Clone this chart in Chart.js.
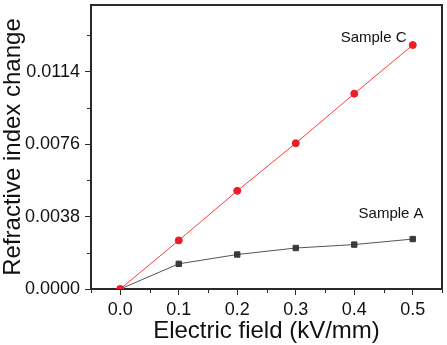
<!DOCTYPE html>
<html>
<head>
<meta charset="utf-8">
<script src="https://cdn.jsdelivr.net/npm/chart.js@4/dist/chart.umd.min.js"></script>
<style>
  html, body { margin: 0; padding: 0; background: #fff; }
  #wrap { width: 447px; height: 345px; }
</style>
</head>
<body>
<div id="wrap"><canvas id="chart" width="447" height="345"></canvas></div>
<script>
const fieldValues = [0.0, 0.1, 0.2, 0.3, 0.4, 0.5];
const sampleC = [0.0, 0.00255, 0.00515, 0.00765, 0.01025, 0.0128];
const sampleA = [0.0, 0.00132, 0.00181, 0.00215, 0.00233, 0.00262];
const seriesNames = ["Sample C", "Sample A"];
// where each series name sits, in data units
const nameAt = [{ x: 0.433, y: 0.01317 }, { x: 0.463, y: 0.00396 }];

const FONT = "'Liberation Sans', Arial, sans-serif";
const frameColor = "#2a2a2a";

const isMajorX = (v) => v > -1e-9 && Math.abs(v * 10 - Math.round(v * 10)) < 1e-6;
const isMajorY = (v) => Math.round(v / 0.0019) % 2 === 0;

// frame, minor ticks and series names
const extras = {
  id: "extras",
  beforeDatasetsDraw(chart) {
    const { ctx, chartArea: a, scales } = chart;
    ctx.save();
    ctx.strokeStyle = frameColor;
    ctx.lineWidth = 2;
    ctx.strokeRect(a.left, a.top, a.right - a.left, a.bottom - a.top);
    ctx.lineWidth = 1;
    scales.x.ticks.forEach((t) => {
      if (isMajorX(t.value)) return;
      const px = Math.round(scales.x.getPixelForValue(t.value)) + 0.5;
      ctx.beginPath();
      ctx.moveTo(px, a.bottom);
      ctx.lineTo(px, a.bottom + 4);
      ctx.stroke();
    });
    scales.y.ticks.forEach((t) => {
      if (isMajorY(t.value)) return;
      const py = Math.round(scales.y.getPixelForValue(t.value)) + 0.5;
      ctx.beginPath();
      ctx.moveTo(a.left, py);
      ctx.lineTo(a.left - 4, py);
      ctx.stroke();
    });
    ctx.restore();
  },
  afterDatasetsDraw(chart) {
    const { ctx, scales } = chart;
    ctx.save();
    ctx.fillStyle = "#111";
    ctx.font = "15px " + FONT;
    ctx.textAlign = "center";
    ctx.textBaseline = "middle";
    seriesNames.forEach((name, i) => {
      ctx.fillText(name, scales.x.getPixelForValue(nameAt[i].x), scales.y.getPixelForValue(nameAt[i].y));
    });
    ctx.restore();
  },
};

new Chart(document.getElementById("chart"), {
  type: "line",
  data: {
    datasets: [
      {
        label: seriesNames[0],
        data: fieldValues.map((x, i) => ({ x, y: sampleC[i] })),
        borderColor: "#ff3b3b",
        borderWidth: 1,
        pointStyle: "circle",
        pointRadius: 3.5,
        pointBackgroundColor: "#ee1c25",
        pointBorderColor: "#ee1c25",
        pointBorderWidth: 1,
      },
      {
        label: seriesNames[1],
        data: fieldValues.map((x, i) => ({ x, y: sampleA[i] })),
        borderColor: "#555555",
        borderWidth: 1,
        pointStyle: "rect",
        pointRadius: 3.8,
        pointBackgroundColor: "#3a3a3a",
        pointBorderColor: "#3a3a3a",
        pointBorderWidth: 1,
      },
    ],
  },
  options: {
    responsive: false,
    animation: false,
    layout: { padding: { top: 2, right: 3, left: 0, bottom: 0 } },
    plugins: { legend: { display: false }, tooltip: { enabled: false } },
    scales: {
      x: {
        type: "linear",
        min: -0.05,
        max: 0.55,
        afterFit: (s) => {
          s.height = 56;
          s.paddingLeft = 0;
          s.paddingRight = 0;
        },
        border: { display: false },
        grid: {
          drawOnChartArea: false,
          tickLength: 6,
          tickColor: (c) => (c.tick && isMajorX(c.tick.value) ? frameColor : "rgba(0,0,0,0)"),
        },
        ticks: {
          stepSize: 0.05,
          autoSkip: false,
          maxRotation: 0,
          padding: 4,
          color: "#111",
          font: { family: FONT, size: 18 },
          callback: (v) => (isMajorX(v) ? v.toFixed(1) : ""),
        },
        title: {
          display: true,
          text: "Electric field (kV/mm)",
          color: "#111",
          font: { family: FONT, size: 24, lineHeight: 1.1 },
          padding: { top: 0, bottom: 0 },
        },
      },
      y: {
        min: 0,
        max: 0.0149,
        afterFit: (s) => {
          s.width = 91;
          s.paddingTop = 0;
          s.paddingBottom = 0;
        },
        border: { display: false },
        grid: {
          drawOnChartArea: false,
          tickLength: 6,
          tickColor: (c) => (c.tick && isMajorY(c.tick.value) ? frameColor : "rgba(0,0,0,0)"),
        },
        ticks: {
          stepSize: 0.0019,
          includeBounds: false,
          autoSkip: false,
          padding: 5,
          color: "#111",
          font: { family: FONT, size: 18 },
          callback: (v) => (isMajorY(v) ? v.toFixed(4) : ""),
        },
        title: {
          display: true,
          text: "Refractive index change",
          color: "#111",
          font: { family: FONT, size: 24, lineHeight: 1.1 },
          padding: { top: 0, bottom: 0 },
        },
      },
    },
  },
  plugins: [extras],
});
</script>
</body>
</html>
